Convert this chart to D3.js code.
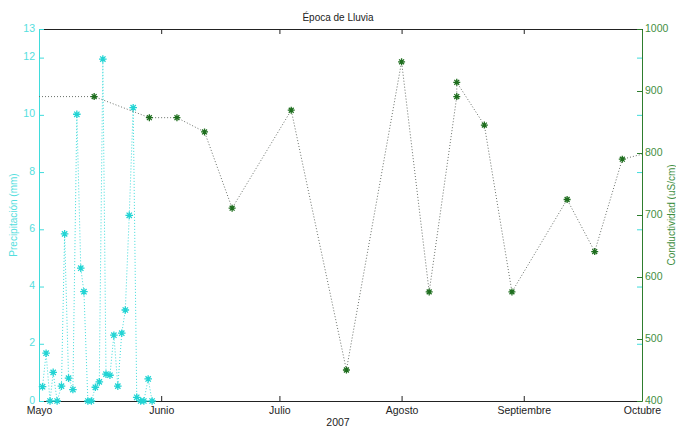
<!DOCTYPE html>
<html><head><meta charset="utf-8">
<script src="https://cdn.jsdelivr.net/npm/d3@7"></script>
<style>body{margin:0;background:#fff}svg{font-family:Arial,"Liberation Sans",sans-serif}</style>
</head><body><svg id="c" width="676" height="429"></svg>
<script>
// Precipitation: day offsets from May 1 2007 and values (mm)
const precipDays = [0.9,1.8,2.8,3.6,4.6,5.7,6.5,7.5,8.6,9.6,10.6,11.4,12.4,13.3,14.3,15.3,16.2,17.0,18.0,19.0,20.0,21.0,21.9,22.9,23.9,24.8,25.8,26.6,27.7,28.7];
const precipVals = [0.5,1.67,0,1.0,0,0.52,5.84,0.8,0.4,10.02,4.64,3.82,0,0,0.48,0.67,11.95,0.94,0.9,2.3,0.52,2.37,3.18,6.49,10.25,0.13,0,0,0.77,0];
// Conductivity: dates and values (uS/cm); first and last are line ends at the axes
const condDates = ["2007-05-01","2007-05-15","2007-05-29","2007-06-05","2007-06-12","2007-06-19","2007-07-04","2007-07-18","2007-08-01","2007-08-08","2007-08-15","2007-08-15","2007-08-22","2007-08-29","2007-09-12","2007-09-19","2007-09-26","2007-10-01"];
const condVals = [891,891,857,857,834,711,869,450,947,576,891,914,845,576,725,641,790,798];
const monthTicks = ["2007-05-01","2007-06-01","2007-07-01","2007-08-01","2007-09-01","2007-10-01"];
const monthLabels = ["Mayo","Junio","Julio","Agosto","Septiembre","Octubre"];
const leftTicks = [0,2,4,6,8,10,12,13];
const rightTicks = [400,500,600,700,800,900,1000];

const parse = d3.utcParse("%Y-%m-%d");
const L=39,R=642,T=29,B=401;
const svg=d3.select("#c");
const x=d3.scaleUtc().domain([parse("2007-05-01"),parse("2007-10-01")]).range([L,R]);
const yL=d3.scaleLinear().domain([0,13]).range([B,T]);
const yR=d3.scaleLinear().domain([400,1000]).range([B,T]);
const cyan="#3fdcdc", cyanTxt="#55dede", green="#2e7d2e", greenTxt="#3f8f3f";
const base=parse("2007-05-01");
const dayMs=86400000;

const xb=d3.axisBottom(x).tickValues(monthTicks.map(parse)).tickFormat((d,i)=>monthLabels[i]).tickSizeInner(-5).tickSizeOuter(0).tickPadding(6);
const gxb=svg.append("g").attr("transform",`translate(0,${B})`).call(xb);
gxb.select(".domain").attr("stroke","#222");
gxb.selectAll("line").attr("stroke","#222");
gxb.selectAll("text").attr("font-size",10.5).attr("fill","#222");
const xt=d3.axisTop(x).tickValues(monthTicks.map(parse)).tickFormat("").tickSizeInner(-5).tickSizeOuter(0);
const gxt=svg.append("g").attr("transform",`translate(0,${T})`).call(xt);
gxt.selectAll("path,line").attr("stroke","#222");

const al=d3.axisLeft(yL).tickValues(leftTicks).tickFormat(d3.format("d")).tickSizeInner(-5).tickSizeOuter(0).tickPadding(4);
const gl=svg.append("g").attr("transform",`translate(${L},0)`).call(al);
gl.selectAll("path,line").attr("stroke",cyan);
gl.selectAll("text").attr("font-size",10.5).attr("fill",cyanTxt).attr("dy","0.2em");
const alr=d3.axisRight(yL).tickValues(leftTicks).tickSizeInner(-5).tickSizeOuter(0).tickFormat("");
const glr=svg.append("g").attr("transform",`translate(${R},0)`).call(alr);
glr.select(".domain").remove();
glr.selectAll("line").attr("stroke",cyan);

const ar=d3.axisRight(yR).tickValues(rightTicks).tickFormat(d3.format("d")).tickSizeInner(-5).tickSizeOuter(0).tickPadding(3);
const gr=svg.append("g").attr("transform",`translate(${R},0)`).call(ar);
gr.selectAll("path,line").attr("stroke",green);
gr.selectAll("text").attr("font-size",10.5).attr("fill",greenTxt).attr("dy","0.2em");

const pts=precipDays.map((d,i)=>[new Date(base.getTime()+d*dayMs),precipVals[i]]);
svg.append("path").datum(pts).attr("fill","none").attr("stroke",cyan).attr("stroke-width",1).attr("stroke-dasharray","1,2")
  .attr("d",d3.line().x(d=>x(d[0])).y(d=>yL(d[1])));
function star(g,cx,cy,col,r){
  g.append("path").attr("d",`M${cx-r},${cy}L${cx+r},${cy}M${cx},${cy-r}L${cx},${cy+r}M${cx-r*0.7},${cy-r*0.7}L${cx+r*0.7},${cy+r*0.7}M${cx-r*0.7},${cy+r*0.7}L${cx+r*0.7},${cy-r*0.7}`)
   .attr("stroke",col).attr("stroke-width",1.3).attr("fill","none");
}
const gp=svg.append("g");
pts.forEach(d=>star(gp,x(d[0]),yL(d[1]),"#22d4d4",3.8));

const cpts=condDates.map((d,i)=>[parse(d),condVals[i]]);
svg.append("path").datum(cpts).attr("fill","none").attr("stroke","#6a706a").attr("stroke-width",1).attr("stroke-dasharray","1,2")
  .attr("d",d3.line().x(d=>x(d[0])).y(d=>yR(d[1])));
const gc=svg.append("g");
cpts.slice(1,-1).forEach(d=>star(gc,x(d[0]),yR(d[1]),"#1e6e1e",3.5));

svg.append("text").attr("x",338).attr("y",21).attr("text-anchor","middle").attr("font-size",10).attr("fill","#222").text("Época de Lluvia");
svg.append("text").attr("x",338).attr("y",426).attr("text-anchor","middle").attr("font-size",10.5).attr("fill","#222").text("2007");
svg.append("text").attr("transform",`translate(17,${(T+B)/2}) rotate(-90)`).attr("text-anchor","middle").attr("font-size",10).attr("fill",cyanTxt).text("Precipitación (mm)");
svg.append("text").attr("transform",`translate(675,${(T+B)/2}) rotate(-90)`).attr("text-anchor","middle").attr("font-size",10).attr("fill",greenTxt).text("Conductividad (uS/cm)");
</script></body></html>
